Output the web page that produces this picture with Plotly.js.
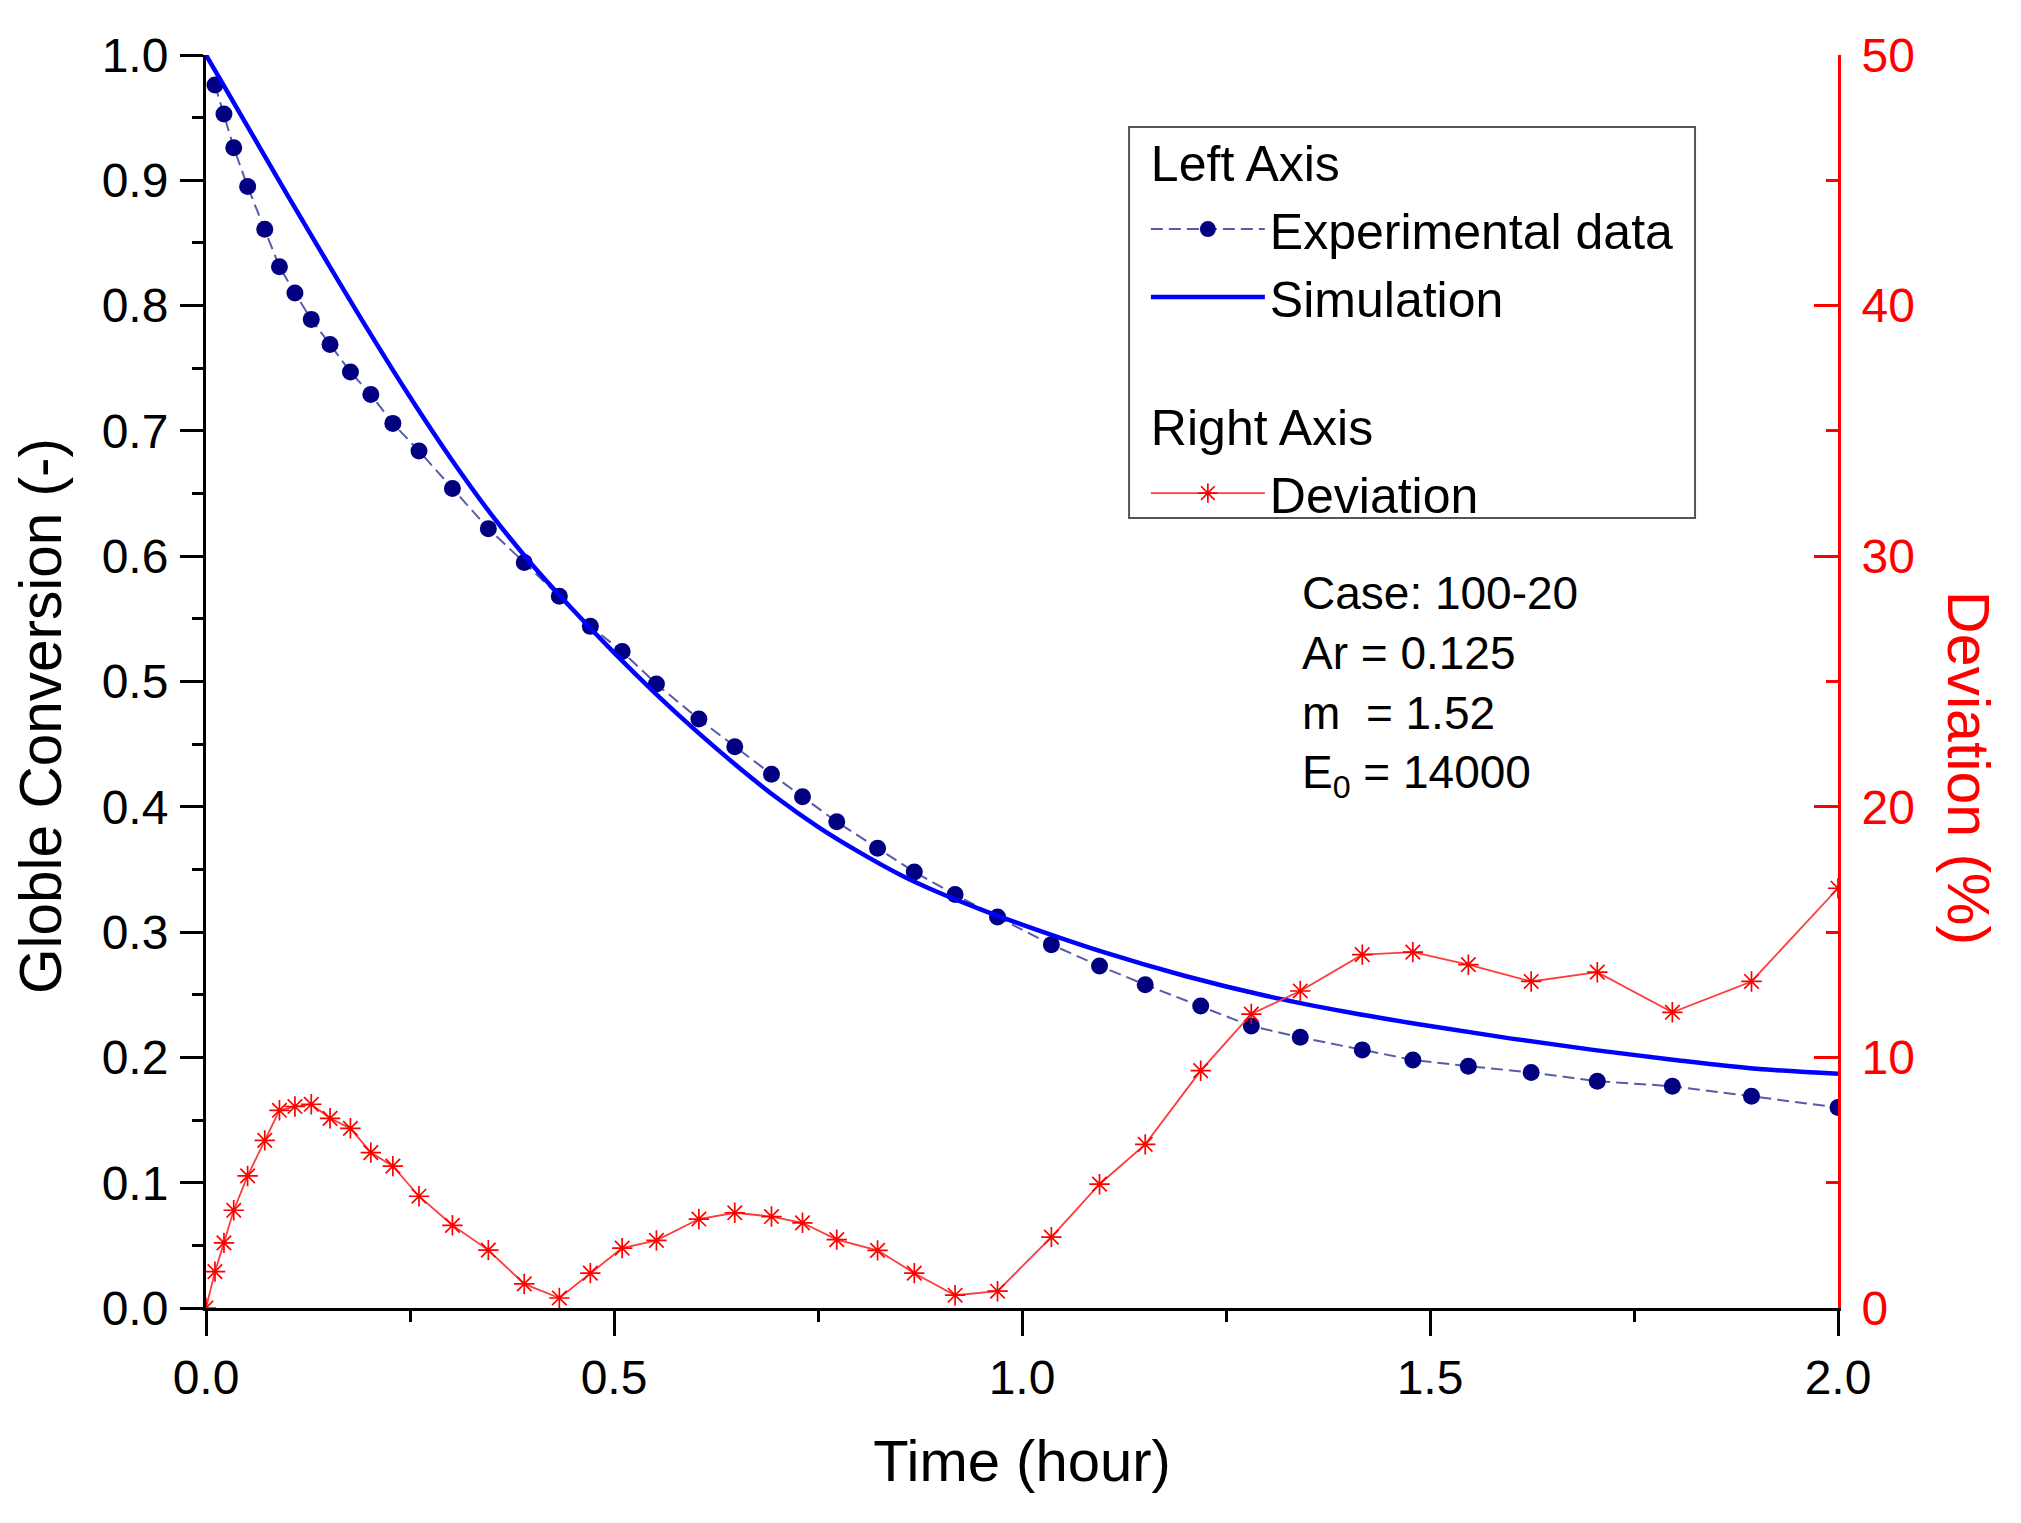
<!DOCTYPE html>
<html>
<head>
<meta charset="utf-8">
<script src="https://cdn.plot.ly/plotly-3.0.1.min.js"></script>
<style>
  html, body { margin: 0; padding: 0; background: #ffffff; }
  #chart { width: 2021px; height: 1523px; }
</style>
</head>
<body>
<div id="chart"></div>
<script>
// ---- data ----
const expTime = [0.011, 0.022, 0.034, 0.051, 0.072, 0.090, 0.109, 0.129, 0.152, 0.177,
                 0.202, 0.229, 0.261, 0.302, 0.346, 0.390, 0.433, 0.471, 0.510, 0.552,
                 0.604, 0.648, 0.693, 0.731, 0.773, 0.823, 0.868, 0.918, 0.970, 1.036,
                 1.095, 1.151, 1.219, 1.281, 1.341, 1.417, 1.479, 1.547, 1.624, 1.705,
                 1.797, 1.894, 2.000];
const expConversion = [0.976, 0.953, 0.926, 0.895, 0.861, 0.831, 0.810, 0.789, 0.769, 0.747,
                       0.729, 0.706, 0.684, 0.654, 0.622, 0.595, 0.568, 0.544, 0.524, 0.498,
                       0.470, 0.448, 0.426, 0.408, 0.388, 0.367, 0.348, 0.330, 0.312, 0.290,
                       0.273, 0.258, 0.241, 0.225, 0.216, 0.206, 0.198, 0.193, 0.188, 0.181,
                       0.177, 0.169, 0.160];

const simTime = [0, 0.05, 0.10, 0.15, 0.20, 0.25, 0.30, 0.35, 0.40, 0.45, 0.50, 0.55, 0.60,
                 0.65, 0.70, 0.75, 0.80, 0.85, 0.90, 0.95, 1.00, 1.10, 1.20, 1.30, 1.40,
                 1.50, 1.60, 1.70, 1.80, 1.90, 2.00];
const simConversion = [1.000, 0.944, 0.888, 0.833, 0.779, 0.727, 0.678, 0.633, 0.593, 0.557,
                       0.523, 0.491, 0.461, 0.433, 0.407, 0.384, 0.364, 0.346, 0.331, 0.318,
                       0.306, 0.284, 0.265, 0.249, 0.236, 0.225, 0.215, 0.206, 0.198, 0.191,
                       0.187];

const devTime = [0, 0.011, 0.022, 0.034, 0.051, 0.072, 0.090, 0.109, 0.129, 0.152, 0.177,
                 0.202, 0.229, 0.261, 0.302, 0.346, 0.390, 0.433, 0.471, 0.510, 0.552,
                 0.604, 0.648, 0.693, 0.731, 0.773, 0.823, 0.868, 0.918, 0.970, 1.036,
                 1.095, 1.151, 1.219, 1.281, 1.341, 1.417, 1.479, 1.547, 1.624, 1.705,
                 1.797, 1.894, 2.000];
const deviation = [0, 1.45, 2.6, 3.9, 5.27, 6.69, 7.89, 8.04, 8.13, 7.57, 7.17,
                   6.2, 5.66, 4.46, 3.3, 2.31, 0.96, 0.40, 1.39, 2.39, 2.7,
                   3.55, 3.8, 3.65, 3.4, 2.73, 2.3, 1.39, 0.51, 0.67, 2.83,
                   4.94, 6.53, 9.47, 11.73, 12.65, 14.1, 14.2, 13.7, 13.03, 13.4,
                   11.8, 13.03, 16.75];

const xTickVals = [0, 0.5, 1.0, 1.5, 2.0];
const xTickText = ['0.0', '0.5', '1.0', '1.5', '2.0'];
const yTickVals = [0, 0.1, 0.2, 0.3, 0.4, 0.5, 0.6, 0.7, 0.8, 0.9, 1.0];
const yTickText = ['0.0', '0.1', '0.2', '0.3', '0.4', '0.5', '0.6', '0.7', '0.8', '0.9', '1.0'];
const y2TickVals = [0, 10, 20, 30, 40, 50];
const y2TickText = ['0', '10', '20', '30', '40', '50'];

const infoLines = ['Case: 100-20', 'Ar = 0.125', 'm\u00a0 = 1.52', 'E<sub>0</sub> = 14000'];

// ---- chart ----
const FONT = 'Liberation Sans, Arial, Helvetica, sans-serif';

const traces = [
  {
    x: expTime, y: expConversion, type: 'scatter', mode: 'lines+markers',
    name: 'Experimental data', legendgroup: 'left',
    legendgrouptitle: { text: 'Left Axis', font: { family: FONT, size: 50, color: '#000' } },
    line: { color: '#5a5aa8', width: 2, dash: '12px,6px' },
    marker: { symbol: 'circle', size: 17, color: '#000080' },
    xaxis: 'x', yaxis: 'y'
  },
  {
    x: simTime, y: simConversion, type: 'scatter', mode: 'lines',
    name: 'Simulation', legendgroup: 'left',
    line: { color: '#0000ff', width: 4.5, shape: 'spline', smoothing: 1 },
    xaxis: 'x', yaxis: 'y'
  },
  {
    x: devTime, y: deviation, type: 'scatter', mode: 'lines+markers',
    name: 'Deviation', legendgroup: 'right',
    legendgrouptitle: { text: 'Right Axis', font: { family: FONT, size: 50, color: '#000' } },
    line: { color: '#ff3b3b', width: 1.8 },
    marker: { symbol: 'asterisk-open', size: 17, color: '#ff0000', line: { color: '#ff0000', width: 1.7 } },
    xaxis: 'x', yaxis: 'y2'
  }
];

const layout = {
  width: 2021, height: 1523,
  margin: { l: 206, r: 183, t: 55, b: 215, pad: 0 },
  paper_bgcolor: '#ffffff', plot_bgcolor: '#ffffff',
  font: { family: FONT, size: 48, color: '#000' },
  showlegend: true,
  xaxis: {
    range: [0, 2], tickvals: xTickVals, ticktext: xTickText,
    ticks: 'outside', ticklen: 25, tickwidth: 3, tickcolor: '#000',
    minor: { dtick: 0.25, ticks: 'outside', ticklen: 11, tickwidth: 3, tickcolor: '#000' },
    showline: true, linewidth: 3, linecolor: '#000',
    showgrid: false, zeroline: false,
    tickfont: { family: FONT, size: 48, color: '#000' },
    ticklabelstandoff: 0,
    title: { text: 'Time (hour)', font: { family: FONT, size: 58, color: '#000' }, standoff: 38 }
  },
  xaxis2: {
    range: [0, 2], overlaying: 'x', side: 'top', anchor: 'y',
    tickvals: xTickVals, showticklabels: false,
    ticks: 'inside', ticklen: 25, tickwidth: 3, tickcolor: '#000',
    minor: { dtick: 0.25, ticks: 'inside', ticklen: 12, tickwidth: 3, tickcolor: '#000' },
    showline: true, linewidth: 3, linecolor: '#000',
    showgrid: false, zeroline: false
  },
  yaxis: {
    range: [0, 1], tickvals: yTickVals, ticktext: yTickText,
    ticks: 'outside', ticklen: 23, tickwidth: 3, tickcolor: '#000',
    minor: { dtick: 0.05, ticks: 'outside', ticklen: 11, tickwidth: 3, tickcolor: '#000' },
    showline: true, linewidth: 3, linecolor: '#000',
    showgrid: false, zeroline: false,
    tickfont: { family: FONT, size: 48, color: '#000' },
    ticklabelstandoff: 2
  },
  yaxis2: {
    range: [0, 50], overlaying: 'y', side: 'right', anchor: 'x',
    tickvals: y2TickVals, ticktext: y2TickText,
    ticks: 'inside', ticklen: 24, tickwidth: 3, tickcolor: '#ff0000',
    minor: { dtick: 5, ticks: 'inside', ticklen: 12, tickwidth: 3, tickcolor: '#ff0000' },
    showline: true, linewidth: 3, linecolor: '#ff0000',
    showgrid: false, zeroline: false,
    tickfont: { family: FONT, size: 48, color: '#ff0000' },
    ticklabelstandoff: 11
  },
  legend: {
    x: 0.5759, y: 0.9465, xanchor: 'left', yanchor: 'top',
    bgcolor: 'rgba(255,255,255,0)', borderwidth: 0,
    font: { family: FONT, size: 50, color: '#000' },
    itemwidth: 114, tracegroupgap: 60, traceorder: 'grouped',
    grouptitlefont: { family: FONT, size: 50, color: '#000' }
  },
  shapes: [
    {
      type: 'rect', xref: 'paper', yref: 'paper', layer: 'below',
      x0: 0.5656, x1: 0.9124, y0: 0.6305, y1: 0.9425,
      line: { color: '#555555', width: 2 }, fillcolor: '#ffffff'
    }
  ],
  annotations: [
    {
      xref: 'paper', yref: 'paper', x: 0.6704, y: 0.593, xanchor: 'left', yanchor: 'top',
      text: infoLines.join('<br>'), align: 'left', showarrow: false,
      font: { family: FONT, size: 46, color: '#000' }
    },
    {
      xref: 'paper', yref: 'paper', x: -0.1011, y: 0.4725, xanchor: 'center', yanchor: 'middle',
      text: 'Globle Conversion (-)', textangle: -90, showarrow: false,
      font: { family: FONT, size: 58.5, color: '#000' }
    },
    {
      xref: 'paper', yref: 'paper', x: 1.0796, y: 0.431, xanchor: 'center', yanchor: 'middle',
      text: 'Deviation (%)', textangle: 90, showarrow: false,
      font: { family: FONT, size: 59, color: '#ff0000' }
    }
  ]
};

Plotly.newPlot('chart', traces, layout, { displayModeBar: false, staticPlot: true });
</script>
</body>
</html>
